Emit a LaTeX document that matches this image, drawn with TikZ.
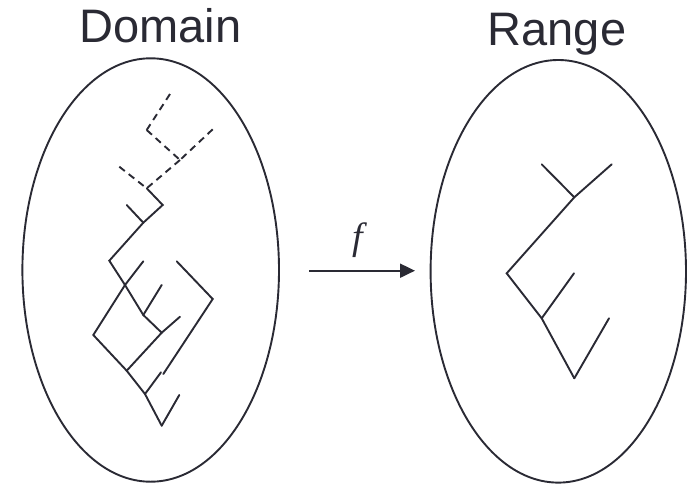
\documentclass[tikz,border=0pt]{standalone}
\usepackage{fontspec}
\setmainfont{Liberation Sans}
\newfontfamily\fnfont{Liberation Serif}
\usetikzlibrary{arrows.meta}
\definecolor{ink}{RGB}{42,42,52}
\begin{document}
\begin{tikzpicture}[x=1pt,y=-1pt,
  set/.style={draw=ink,line width=1.9pt},
  edge/.style={draw=ink,line width=1.9pt,line cap=round},
  ghost/.style={draw=ink,line width=1.9pt,dash pattern=on 7pt off 5pt},
  title/.style={text=ink,font=\fontsize{47}{56}\selectfont,anchor=base},
  map/.style={draw=ink,line width=2pt,-{Triangle[length=15pt,width=14pt]}}]
\useasboundingbox (0,0) rectangle (693,485);

% the two sets
\draw[set] (150.7,270) ellipse [x radius=128.3, y radius=211.7];
\draw[set] (558.3,271.3) ellipse [x radius=127.7, y radius=211.3];
\node[title] (dom) at (160.5,42.7) {Domain};
\node[title] (ran) at (557,45) {Range};

% mapping arrow
\coordinate (m0) at (309.3,270.7);
\coordinate (m1) at (415,270.7);
\draw[map] (m0) -- (m1);
\node[text=ink,font=\fnfont\itshape\fontsize{38}{42}\selectfont] (f) at (358,240) {f};

% domain tree: dashed upper part
\coordinate (r0) at (146.7,188.3);
\coordinate (dl) at (119.3,166.7);
\coordinate (dn) at (180,160);
\coordinate (dr) at (212.7,129.3);
\coordinate (dm) at (146.7,130);
\coordinate (dt) at (170,94);
\draw[ghost] (dl) -- (r0);
\draw[ghost] (dn) -- (r0);
\draw[ghost] (dr) -- (dn);
\draw[ghost] (dm) -- (dn);
\draw[ghost] (dt) -- (dm);

% domain tree: solid part
\coordinate (a1) at (162.7,205);
\coordinate (a2) at (143.3,222.7);
\coordinate (l1) at (126.7,205);
\coordinate (a3) at (109.3,260.7);
\coordinate (b)  at (125,285);
\coordinate (l2) at (143.3,261.3);
\coordinate (c)  at (93.3,335);
\coordinate (a4) at (143.3,315);
\coordinate (l3) at (161.7,285);
\coordinate (d)  at (161.7,332.7);
\coordinate (l4) at (180,316.7);
\coordinate (e)  at (126.7,370.7);
\coordinate (g)  at (145,394);
\coordinate (l5) at (161,372.3);
\coordinate (h)  at (161.7,425.7);
\coordinate (l6) at (179.3,395);
\coordinate (k0) at (176.7,261.3);
\coordinate (k)  at (212.7,299);
\coordinate (k1) at (163.3,374);
\draw[edge] (r0) -- (a1) -- (a2);
\draw[edge] (l1) -- (a2);
\draw[edge] (a2) -- (a3) -- (b) -- (a4);
\draw[edge] (l2) -- (b);
\draw[edge] (b) -- (c);
\draw[edge] (l3) -- (a4);
\draw[edge] (a4) -- (d);
\draw[edge] (l4) -- (d);
\draw[edge] (d) -- (e);
\draw[edge] (c) -- (e);
\draw[edge] (e) -- (g);
\draw[edge] (l5) -- (g);
\draw[edge] (g) -- (h);
\draw[edge] (l6) -- (h);
\draw[edge] (k0) -- (k) -- (k1);

% range tree
\coordinate (R1) at (541.7,164.3);
\coordinate (R2) at (611.7,164.3);
\coordinate (Rp) at (574.3,197.3);
\coordinate (Rq) at (506.7,273.3);
\coordinate (R3) at (574,273.3);
\coordinate (Rs) at (541.7,318.3);
\coordinate (R4) at (609,318.3);
\coordinate (Rt) at (574.3,378.3);
\draw[edge] (R1) -- (Rp);
\draw[edge] (R2) -- (Rp);
\draw[edge] (Rp) -- (Rq) -- (Rs);
\draw[edge] (R3) -- (Rs);
\draw[edge] (Rs) -- (Rt);
\draw[edge] (R4) -- (Rt);
\end{tikzpicture}
\end{document}
